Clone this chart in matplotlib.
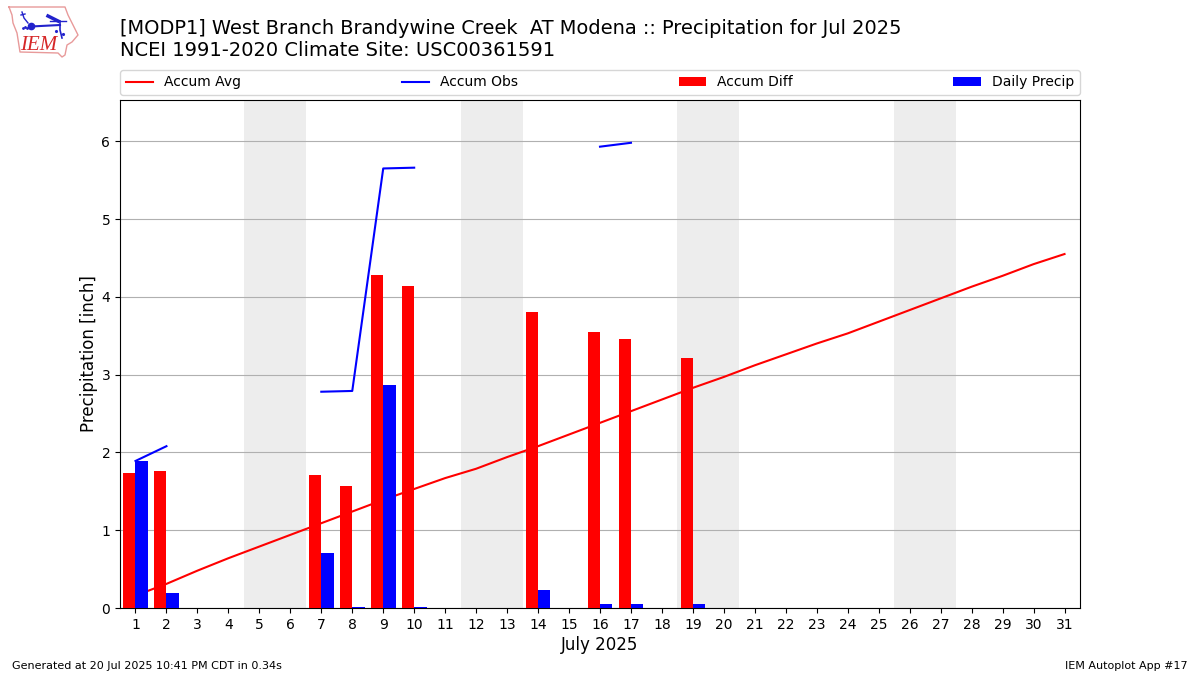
import numpy as np
import matplotlib
matplotlib.use('Agg')
import matplotlib.pyplot as plt

days = list(range(1, 32))
accum_avg = [0.16, 0.31, 0.48, 0.64, 0.79, 0.94, 1.09, 1.24, 1.39, 1.53, 1.67, 1.79, 1.94, 2.08, 2.23, 2.38,
             2.53, 2.68, 2.83, 2.97, 3.12, 3.26, 3.40, 3.53, 3.68, 3.83, 3.98, 4.13, 4.27, 4.42, 4.55]
nan = np.nan
accum_obs = [1.89, 2.08, nan, nan, nan, nan, 2.78, 2.79, 5.65, 5.66, nan, nan, nan, nan, nan, 5.93, 5.98,
             nan, nan, nan, nan, nan, nan, nan, nan, nan, nan, nan, nan, nan, nan]
bar_days = [1, 2, 7, 8, 9, 10, 14, 16, 17, 19]
accum_diff = [1.73, 1.76, 1.71, 1.57, 4.28, 4.14, 3.80, 3.55, 3.46, 3.21]
daily_precip = [1.89, 0.19, 0.71, 0.01, 2.87, 0.01, 0.23, 0.05, 0.05, 0.05]
weekends = [(4.5, 6.5), (11.5, 13.5), (18.5, 20.5), (25.5, 27.5)]

fig = plt.figure(figsize=(12, 6.75), dpi=100)
ax = fig.add_axes([0.1, 67 / 675, 0.8, 508 / 675])

for start, end in weekends:
    ax.axvspan(start, end, color='#ededed', lw=0, zorder=0)

ax.plot(days, accum_avg, color='red', label='Accum Avg', zorder=2)
ax.plot(days, accum_obs, color='blue', label='Accum Obs', zorder=2)
ax.bar(np.array(bar_days) - 0.2, accum_diff, width=0.4, color='red', label='Accum Diff', zorder=3)
ax.bar(np.array(bar_days) + 0.2, daily_precip, width=0.4, color='blue', label='Daily Precip', zorder=3)

ax.set_xlim(0.5, 31.5)
ax.set_ylim(0, 6.53)
ax.set_xticks(days)
ax.set_yticks(range(0, 7))
ax.grid(axis='y', color='#b0b0b0', zorder=1)
ax.set_axisbelow(True)
ax.set_xlabel('July 2025', fontsize=12, labelpad=3)
ax.set_ylabel('Precipitation [inch]', fontsize=12, labelpad=2.5)
ax.legend(loc='lower left', bbox_to_anchor=(0, 1.0098, 1, 0.1), mode='expand', ncol=4,
          borderaxespad=0, fontsize=10)

fig.text(120 / 1200, 1 - 29 / 675, '[MODP1] West Branch Brandywine Creek  AT Modena :: Precipitation for Jul 2025',
         fontsize=13.985, va='center')
fig.text(120 / 1200, 1 - 51 / 675, 'NCEI 1991-2020 Climate Site: USC00361591', fontsize=14, va='center')
fig.text(12 / 1200, 1 - 666 / 675, 'Generated at 20 Jul 2025 10:41 PM CDT in 0.34s', fontsize=8, va='center')
fig.text(1188 / 1200, 1 - 666 / 675, 'IEM Autoplot App #17', fontsize=8, va='center', ha='right')

# logo, in pixel coordinates
logo = fig.add_axes([0, 0, 1, 1], zorder=5)
logo.set_xlim(0, 1200)
logo.set_ylim(675, 0)
logo.axis('off')
iowa_x = [9, 65, 68, 72, 78, 72, 67, 65, 62, 58, 20, 17, 13, 12, 9]
iowa_y = [7, 7, 15, 23, 35, 42, 45, 55, 57, 53, 52, 33, 23, 15, 7]
logo.plot(iowa_x, iowa_y, color='#e89a9a', lw=1)
logo.text(20, 46, 'IEM', color='#d62728', fontsize=15, style='italic', family='Liberation Serif', va='center')
logo.plot([31, 60], [26.5, 25], color='#2222cc', lw=1.5)
logo.plot([31], [26], 'o', color='#2222cc', ms=4.5)
logo.plot([22, 24, 28], [12, 18, 23], color='#2222cc', lw=1)
logo.plot([21, 25], [15, 14], color='#2222cc', lw=1)
logo.plot([48, 58], [16, 21], color='#2222cc', lw=2.5)
logo.plot([50, 66], [21, 21], color='#2222cc', lw=1)
logo.plot([60, 60, 62], [21, 30, 38], color='#2222cc', lw=1.2)
logo.plot([56, 63], [31, 34], '.', color='#2222cc', ms=2.5)
logo.plot([23, 25, 27], [28, 27, 28], '.', color='#2222cc', ms=2)

fig.savefig('out.png', dpi=100)
